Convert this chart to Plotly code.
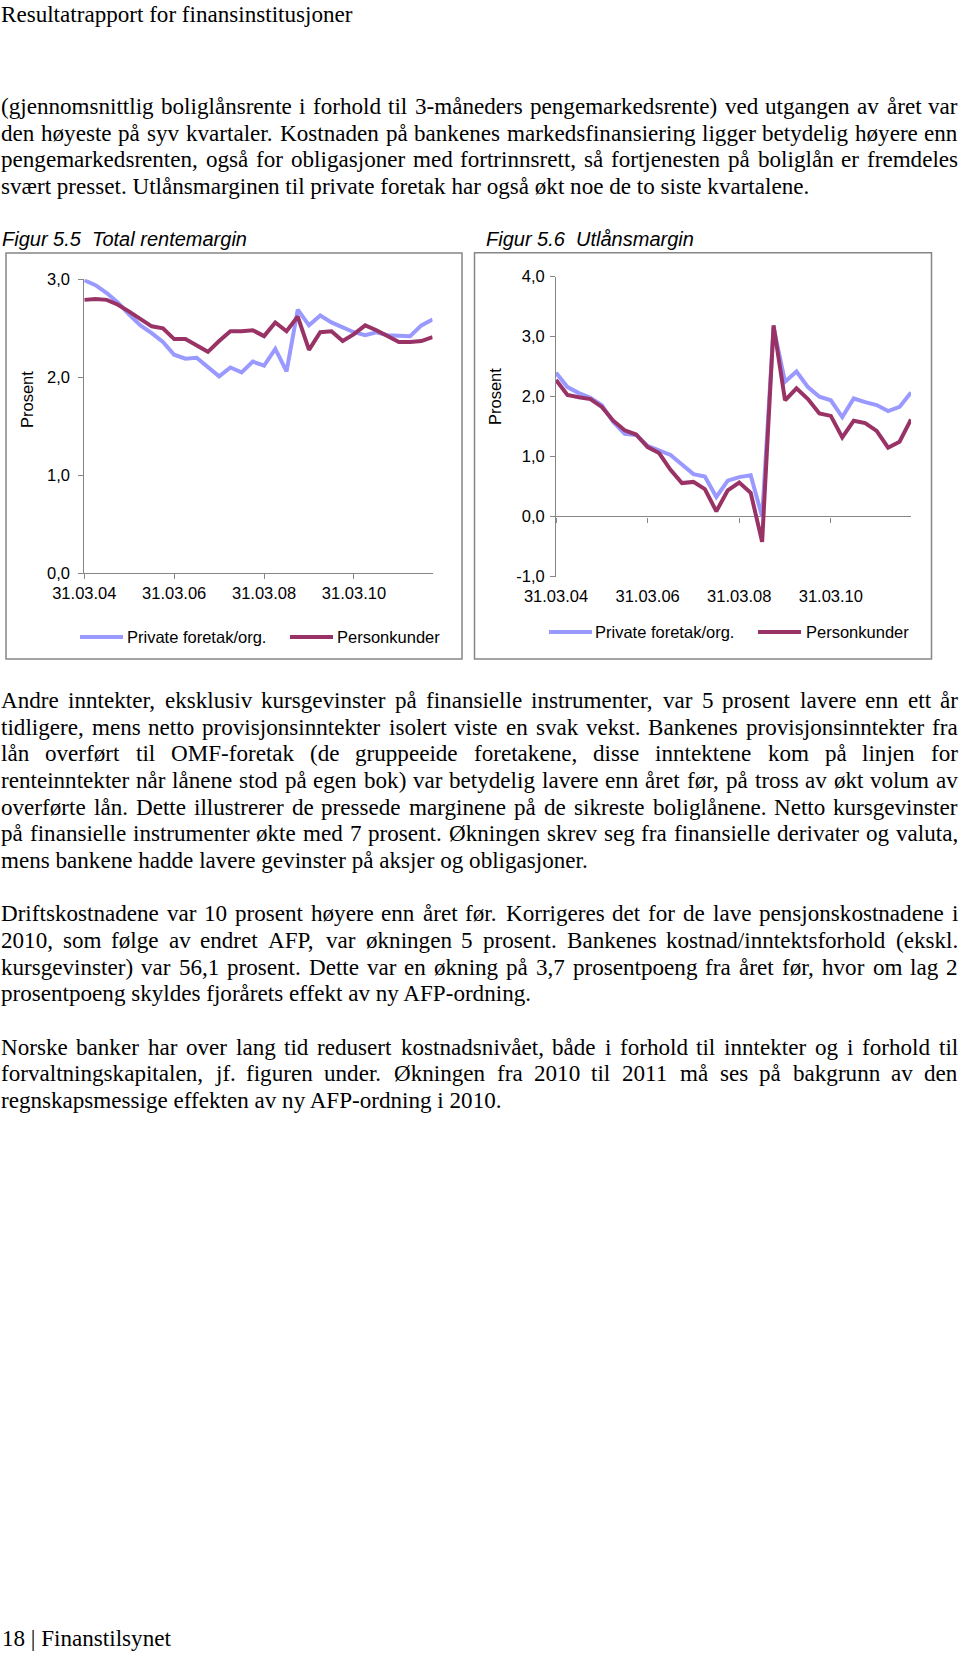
import plotly.graph_objects as go

W, H = 960, 1653

# quarter ends 31.03.04 .. 31.12.11
ends = ["31.03", "30.06", "30.09", "31.12"]
quarters = [f"{d}.{y:02d}" for y in range(4, 12) for d in ends]
x_ticks = ["31.03.04", "31.03.06", "31.03.08", "31.03.10"]

# Figur 5.5 Total rentemargin
total_private = [2.99, 2.94, 2.86, 2.76, 2.64, 2.53, 2.45, 2.36, 2.23, 2.19, 2.20, 2.11, 2.01, 2.10, 2.05, 2.16,
                 2.12, 2.29, 2.06, 2.69, 2.53, 2.63, 2.56, 2.51, 2.46, 2.43, 2.46, 2.43, 2.43, 2.42, 2.53, 2.59]
total_person = [2.79, 2.80, 2.79, 2.74, 2.67, 2.59, 2.52, 2.50, 2.39, 2.39, 2.32, 2.26, 2.37, 2.47, 2.47, 2.48,
                2.42, 2.56, 2.47, 2.62, 2.28, 2.46, 2.47, 2.37, 2.44, 2.53, 2.48, 2.42, 2.36, 2.36, 2.37, 2.41]
total_yticks = [0, 1, 2, 3]
total_ylabels = ["0,0", "1,0", "2,0", "3,0"]

# Figur 5.6 Utlånsmargin
utlan_private = [2.40, 2.16, 2.06, 1.98, 1.86, 1.58, 1.38, 1.36, 1.18, 1.10, 1.03, 0.87, 0.71, 0.67, 0.33, 0.60,
                 0.66, 0.69, 0.00, 3.15, 2.25, 2.42, 2.16, 2.00, 1.94, 1.66, 1.97, 1.91, 1.86, 1.76, 1.83, 2.07]
utlan_person = [2.28, 2.03, 1.99, 1.96, 1.83, 1.60, 1.44, 1.37, 1.16, 1.06, 0.78, 0.56, 0.58, 0.46, 0.09, 0.44,
                0.57, 0.40, -0.42, 3.19, 1.94, 2.14, 1.96, 1.72, 1.68, 1.32, 1.60, 1.56, 1.43, 1.15, 1.25, 1.62]
utlan_yticks = [-1, 0, 1, 2, 3, 4]
utlan_ylabels = ["-1,0", "0,0", "1,0", "2,0", "3,0", "4,0"]

series_names = ["Private foretak/org.", "Personkunder"]
LIGHT, DARK, GREY = "#9999FF", "#993366", "#868686"

header = "Resultatrapport for finansinstitusjoner"
footer = "18 | Finanstilsynet"
para1 = [
    "(gjennomsnittlig boliglånsrente i forhold til 3-måneders pengemarkedsrente) ved utgangen av året var",
    "den høyeste på syv kvartaler. Kostnaden på bankenes markedsfinansiering ligger betydelig høyere enn",
    "pengemarkedsrenten, også for obligasjoner med fortrinnsrett, så fortjenesten på boliglån er fremdeles",
    "svært presset. Utlånsmarginen til private foretak har også økt noe de to siste kvartalene.",
]
para2 = [
    "Andre inntekter, eksklusiv kursgevinster på finansielle instrumenter, var 5 prosent lavere enn ett år",
    "tidligere, mens netto provisjonsinntekter isolert viste en svak vekst. Bankenes provisjonsinntekter fra",
    "lån overført til OMF-foretak (de gruppeeide foretakene, disse inntektene kom på linjen for",
    "renteinntekter når lånene stod på egen bok) var betydelig lavere enn året før, på tross av økt volum av",
    "overførte lån. Dette illustrerer de pressede marginene på de sikreste boliglånene. Netto kursgevinster",
    "på finansielle instrumenter økte med 7 prosent. Økningen skrev seg fra finansielle derivater og valuta,",
    "mens bankene hadde lavere gevinster på aksjer og obligasjoner.",
]
para3 = [
    "Driftskostnadene var 10 prosent høyere enn året før. Korrigeres det for de lave pensjonskostnadene i",
    "2010, som følge av endret AFP, var økningen 5 prosent. Bankenes kostnad/inntektsforhold (ekskl.",
    "kursgevinster) var 56,1 prosent. Dette var en økning på 3,7 prosentpoeng fra året før, hvor om lag 2",
    "prosentpoeng skyldes fjorårets effekt av ny AFP-ordning.",
]
para4 = [
    "Norske banker har over lang tid redusert kostnadsnivået, både i forhold til inntekter og i forhold til",
    "forvaltningskapitalen, jf. figuren under. Økningen fra 2010 til 2011 må ses på bakgrunn av den",
    "regnskapsmessige effekten av ny AFP-ordning i 2010.",
]

SERIF, SANS = "Liberation Serif", "Liberation Sans"
BODY = 23.1
SMALL = 16.5

# rough Times widths (1/1000 em) used to justify the body text
CW = {}
for chars, w in [("bdghknopquvxy0123456789ø", 500), ("acezåé", 444), ("ijlt/:", 278), ("fr-()I", 333),
                 ("sJ", 389), ("m", 778), ("wADGHKNOQUVXYØÅ", 722), ("BCRæ", 667), ("ELTZ", 611),
                 ("FPS", 556), ("M", 889), ("W", 944), (" .,", 250)]:
    for c in chars:
        CW[c] = w


def px(x):
    return x / W


def py(y):
    return 1 - y / H


anns = []


def put(text, x, y, size=BODY, family=SERIF, xanchor="left", **kw):
    anns.append(dict(text=text, x=px(x), y=py(y), xref="paper", yref="paper", showarrow=False,
                     xanchor=xanchor, yanchor="middle", borderpad=0, borderwidth=0,
                     font=dict(family=family, size=size, color="black"), **kw))


def paragraph(lines, y0, step=26.67, x0=1, x1=958):
    for i, line in enumerate(lines):
        y = y0 + i * step
        words = line.split(" ")
        if i == len(lines) - 1:
            put(line, x0, y)
            continue
        widths = [sum(CW.get(c, 500) for c in w) * BODY / 1000 for w in words]
        gap = (x1 - x0 - sum(widths)) / (len(words) - 1)
        x = x0
        for j, (w, wd) in enumerate(zip(words, widths)):
            if j == len(words) - 1:
                put(w, x1, y, xanchor="right")
            else:
                put(w, x, y)
            x += wd + gap


put(header, 1, 14)
paragraph(para1, 106)
paragraph(para2, 700)
paragraph(para3, 913.3)
paragraph(para4, 1046.7)
put(footer, 2, 1638)

# chart titles, axis titles, legends
put("<i>Figur 5.5\u00a0\u00a0Total rentemargin</i>", 2, 239, size=20, family=SANS)
put("<i>Figur 5.6\u00a0\u00a0Utlånsmargin</i>", 486, 239, size=20, family=SANS)
put("Prosent", 27, 400, size=SMALL, family=SANS, xanchor="center", textangle=-90)
put("Prosent", 495, 397, size=SMALL, family=SANS, xanchor="center", textangle=-90)

shapes = [
    dict(type="rect", xref="paper", yref="paper", x0=px(6), x1=px(462), y0=py(659), y1=py(253),
         line=dict(color=GREY, width=1.5)),
    dict(type="rect", xref="paper", yref="paper", x0=px(474.5), x1=px(931.5), y0=py(659), y1=py(252.7),
         line=dict(color=GREY, width=1.5)),
]
for (ax, tx, bx, ux, yy) in [(80, 127, 290, 337, 637), (549, 595, 758, 806, 632)]:
    shapes.append(dict(type="line", xref="paper", yref="paper", x0=px(ax), x1=px(ax + 43), y0=py(yy), y1=py(yy),
                       line=dict(color=LIGHT, width=4)))
    shapes.append(dict(type="line", xref="paper", yref="paper", x0=px(bx), x1=px(bx + 43), y0=py(yy), y1=py(yy),
                       line=dict(color=DARK, width=4)))
    put(series_names[0], tx, yy, size=SMALL, family=SANS)
    put(series_names[1], ux, yy, size=SMALL, family=SANS)

fig = go.Figure()
for xa, ya, ys in [("x", "y", [total_private, total_person]), ("x2", "y2", [utlan_private, utlan_person])]:
    for name, vals, col in zip(series_names, ys, [LIGHT, DARK]):
        fig.add_trace(go.Scatter(x=quarters, y=vals, mode="lines", name=name, xaxis=xa, yaxis=ya,
                                 line=dict(color=col, width=4), showlegend=False, hoverinfo="skip"))

tickfont = dict(family=SANS, size=SMALL, color="black")
common_x = dict(type="category", range=[0, 31], tickvals=x_ticks, ticktext=x_ticks, ticks="outside", ticklen=5,
                tickcolor=GREY, showgrid=False, zeroline=False, tickfont=tickfont, automargin=False)
common_y = dict(ticks="outside", ticklen=5, tickcolor=GREY, showgrid=False, showline=True, linecolor=GREY,
                linewidth=1, tickfont=tickfont, automargin=False)

fig.update_layout(
    width=W, height=H, margin=dict(l=0, r=0, t=0, b=0, autoexpand=False),
    paper_bgcolor="white", plot_bgcolor="white", showlegend=False,
    shapes=shapes, annotations=anns,
    xaxis=dict(domain=[px(84.3), px(432.6)], anchor="y", showline=True, linecolor=GREY, linewidth=1,
               ticklabelstandoff=0, **common_x),
    yaxis=dict(domain=[py(573.3), py(279.3)], anchor="x", range=[0, 3], tickvals=total_yticks,
               ticktext=total_ylabels, zeroline=False, ticklabelstandoff=5, **common_y),
    xaxis2=dict(domain=[px(556), px(911)], anchor="free", position=py(516.7), showline=False,
                ticklabelstandoff=59, **common_x),
    yaxis2=dict(domain=[py(576.7), py(276.7)], anchor="x2", range=[-1, 4], tickvals=utlan_yticks,
                ticktext=utlan_ylabels, zeroline=True, zerolinecolor=GREY, zerolinewidth=1,
                ticklabelstandoff=2, **common_y),
)

# the page body has a default 8px margin; drop it so the figure sits at the window's corner
fig.write_html("out.html", config={"displayModeBar": False},
               post_script="document.body.style.margin='0px';")
